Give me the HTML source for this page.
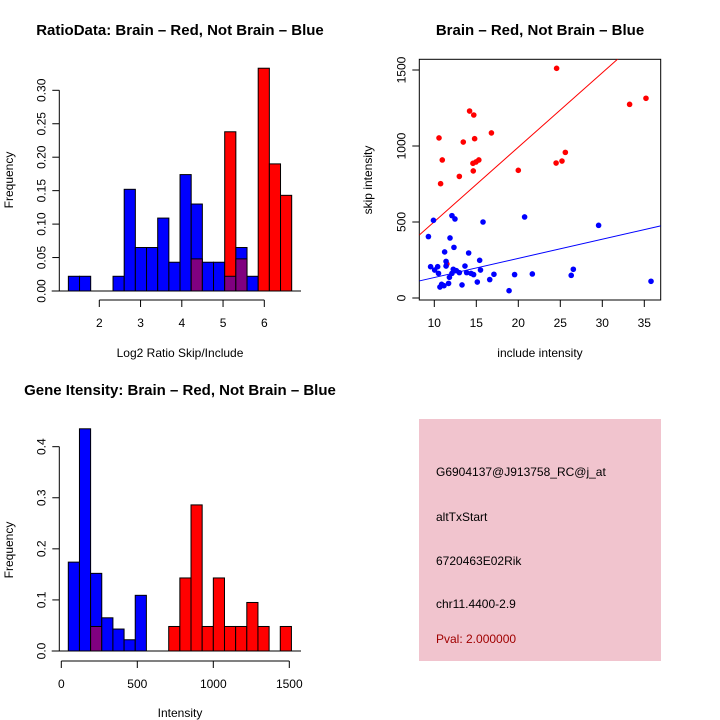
<!DOCTYPE html>
<html><head><meta charset="utf-8"><style>
body{margin:0;background:#fff}
svg{display:block;font-family:"Liberation Sans",sans-serif}
</style></head><body>
<svg id="c" width="720" height="720" viewBox="0 0 720 720">
<rect width="720" height="720" fill="#fff"/>
<text x="180" y="35" font-size="15" font-weight="bold" text-anchor="middle">RatioData: Brain – Red, Not Brain – Blue</text>
<text x="540" y="35" font-size="15" font-weight="bold" text-anchor="middle">Brain – Red, Not Brain – Blue</text>
<text x="180" y="395" font-size="15" font-weight="bold" text-anchor="middle">Gene Itensity: Brain – Red, Not Brain – Blue</text>
<text x="180" y="357" font-size="12" text-anchor="middle">Log2 Ratio Skip/Include</text>
<text x="13" y="180" font-size="12" text-anchor="middle" transform="rotate(-90 13 180)">Frequency</text>
<text x="540" y="357" font-size="12" text-anchor="middle">include intensity</text>
<text x="372" y="180" font-size="12" text-anchor="middle" transform="rotate(-90 372 180)">skip intensity</text>
<text x="180" y="717" font-size="12" text-anchor="middle">Intensity</text>
<text x="13" y="550" font-size="12" text-anchor="middle" transform="rotate(-90 13 550)">Frequency</text>
<rect x="419" y="419" width="242" height="242" fill="#f1c4ce"/>
<g font-size="12">
<text x="436" y="476">G6904137@J913758_RC@j_at</text>
<text x="436" y="521">altTxStart</text>
<text x="436" y="565">6720463E02Rik</text>
<text x="436" y="608">chr11.4400-2.9</text>
<text x="436" y="643" fill="#a00000">Pval: 2.000000</text>
</g>
</svg>
<script>
// Ratio histogram data (20 bins from 1.25 width 0.2707)
const ratioBlue=[0.022,0.022,0,0,0.022,0.152,0.065,0.065,0.109,0.043,0.174,0.130,0.043,0.043,0.022,0.065,0.022,0,0,0];
const ratioRed=[0,0,0,0,0,0,0,0,0,0,0,0.048,0,0,0.238,0.048,0,0.333,0.190,0.143];
const ratioXTicks=[2,3,4,5,6];
const ratioYTicks=["0.00","0.05","0.10","0.15","0.20","0.25","0.30"];
// Intensity histogram data (20 bins from 46 width 73.4)
const intBlue=[0.174,0.435,0.152,0.065,0.043,0.022,0.109,0,0,0,0,0,0,0,0,0,0,0,0,0];
const intRed=[0,0,0.048,0,0,0,0,0,0,0.048,0.143,0.286,0.048,0.143,0.048,0.048,0.095,0.048,0,0.048];
const intXTicks=[0,500,1000,1500];
const intYTicks=["0.0","0.1","0.2","0.3","0.4"];
// Scatter data
const redX=[24.56,10.56,10.95,10.75,12.98,13.45,14.2,14.7,14.8,16.8,14.6,14.96,15.3,14.64,20.0,24.5,25.2,25.6,33.25,35.2,11.5];
const redY=[1511,1053,908,752,800,1026,1230,1204,1048,1086,886,895,908,836,840,888,901,958,1274,1314,224];
const blueX=[9.9,9.3,9.56,10.04,10.4,10.5,10.67,10.87,11.15,11.23,11.4,11.4,11.7,11.8,11.87,12.1,12.34,12.26,12.46,12.1,12.62,12.98,13.3,13.65,13.85,14.09,14.37,14.68,15.12,15.4,15.5,15.8,16.6,17.1,18.9,19.56,20.75,21.67,26.3,26.55,29.56,35.8];
const blueY=[511,404,206,184,206,162,72,90,81,303,241,210,96,136,395,542,333,189,520,162,180,167,86,210,167,296,162,154,105,248,184,500,121,156,48,154,533,158,149,189,478,110];
const redFit=[12,49];
const blueFit=[8.7,12.6];
const scatXTicks=[10,15,20,25,30,35];
const scatYTicks=[0,500,1000,1500];

const NS="http://www.w3.org/2000/svg";
const svg=document.getElementById('c');
function el(t,a,parent){const e=document.createElementNS(NS,t);for(const k in a)e.setAttribute(k,a[k]);(parent||svg).appendChild(e);return e;}

function hist(blue,red,x0,bw,sx,sy,name){
  const g=el('g',{});
  
  
  for(let i=0;i<blue.length;i++){
    const b=blue[i],r=red[i];
    const xa=sx(x0+i*bw),xb=sx(x0+(i+1)*bw);
    const big=Math.max(b,r),small=Math.min(b,r);
    if(big>0){
      const r1=el('rect',{x:xa,y:sy(big),width:xb-xa,height:sy(0)-sy(big),fill:b>=r?'#0000ff':'#ff0000',stroke:'#000','stroke-width':1},g);
      
      
    }
    if(small>0){
      const r2=el('rect',{x:xa,y:sy(small),width:xb-xa,height:sy(0)-sy(small),fill:'#800080',stroke:'#000','stroke-width':1},g);
      
      
    }
  }
}
function yaxis(x,ticks,sy,vals,name){
  const g=el('g',{stroke:'#000','stroke-width':1});
  
  
  el('line',{x1:x,x2:x,y1:sy(vals[0]),y2:sy(vals[vals.length-1])},g);
  ticks.forEach((t,i)=>{const y=sy(vals[i]);el('line',{x1:x,x2:x-7,y1:y,y2:y},g);
    const tx=el('text',{x:x-14,y:y,'font-size':12,'text-anchor':'middle',stroke:'none',fill:'#000',transform:`rotate(-90 ${x-14} ${y})`},g);tx.textContent=t;});
}
function xaxis(y,ticks,sx,name){
  const g=el('g',{stroke:'#000','stroke-width':1});
  
  
  el('line',{x1:sx(ticks[0]),x2:sx(ticks[ticks.length-1]),y1:y,y2:y},g);
  ticks.forEach(t=>{const x=sx(t);el('line',{x1:x,x2:x,y1:y,y2:y+7},g);
    const tx=el('text',{x:x,y:y+27,'font-size':12,'text-anchor':'middle',stroke:'none',fill:'#000'},g);tx.textContent=t;});
}
// Ratio hist
{
  const sx=v=>99.3+(v-2)*41.25, sy=v=>291-v*669;
  el('line',{x1:51.7,x2:301,y1:291,y2:291,stroke:'#000'});
  hist(ratioBlue,ratioRed,1.25,0.2707,sx,sy,'ratio');
  yaxis(59.3,ratioYTicks,sy,ratioYTicks.map(Number),'ratio-y-axis');
  xaxis(300,ratioXTicks,sx,'ratio-x-axis');
}
// Intensity hist
{
  const sx=v=>61.3+v*0.152, sy=v=>651-v*510.8;
  el('line',{x1:51.7,x2:301,y1:651,y2:651,stroke:'#000'});
  hist(intBlue,intRed,46,73.4,sx,sy,'intensity');
  yaxis(59.3,intYTicks,sy,intYTicks.map(Number),'intensity-y-axis');
  xaxis(661,intXTicks,sx,'intensity-x-axis');
}
// Scatter
{
  const L=419.3,R=660.7,T=59.3,B=300;
  const sx=v=>434.3+(v-10)*8.4, sy=v=>298-v*0.152;
  const cp=el('clipPath',{id:'sc'});el('rect',{x:L,y:T,width:R-L,height:B-T},cp);
  const box=el('rect',{x:L,y:T,width:R-L,height:B-T,fill:'none',stroke:'#000'});
  
  
  const ix=v=>(v-434.3)/8.4+10;
  const xl=ix(L),xr=ix(R);
  const rl=el('line',{x1:L,x2:R,y1:sy(redFit[0]+redFit[1]*xl),y2:sy(redFit[0]+redFit[1]*xr),stroke:'#ff0000','clip-path':'url(#sc)'});
  
  
  const bl=el('line',{x1:L,x2:R,y1:sy(blueFit[0]+blueFit[1]*xl),y2:sy(blueFit[0]+blueFit[1]*xr),stroke:'#0000ff','clip-path':'url(#sc)'});
  
  
  redX.forEach((x,i)=>{const c=el('circle',{cx:sx(x),cy:sy(redY[i]),r:2.8,fill:'#ff0000'});
    
    });
  blueX.forEach((x,i)=>{const c=el('circle',{cx:sx(x),cy:sy(blueY[i]),r:2.8,fill:'#0000ff'});
    
    });
  const gx=el('g',{stroke:'#000'});
  
  
  scatXTicks.forEach(t=>{const x=sx(t);el('line',{x1:x,x2:x,y1:B,y2:B+7},gx);
    const tx=el('text',{x:x,y:B+27,'font-size':12,'text-anchor':'middle',stroke:'none',fill:'#000'},gx);tx.textContent=t;});
  const gy=el('g',{stroke:'#000'});
  
  
  scatYTicks.forEach(t=>{const y=sy(t);el('line',{x1:L,x2:L-7,y1:y,y2:y},gy);
    const tx=el('text',{x:L-14,y:y,'font-size':12,'text-anchor':'middle',stroke:'none',fill:'#000',transform:`rotate(-90 ${L-14} ${y})`},gy);tx.textContent=t;});
}
</script>
</body></html>
